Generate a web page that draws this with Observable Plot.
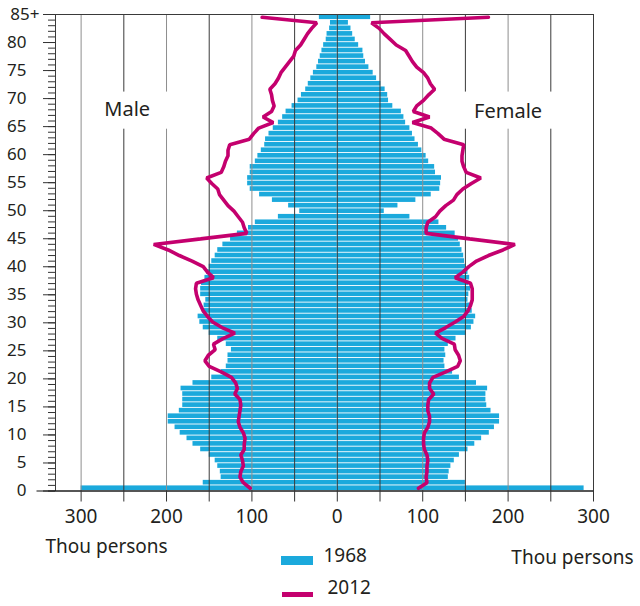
<!DOCTYPE html>
<html><head><meta charset="utf-8">
<script src="https://cdn.jsdelivr.net/npm/d3@7"></script>
<script src="https://cdn.jsdelivr.net/npm/@observablehq/plot@0.6"></script>
<style>
body{margin:0;background:#fff;}
#wrap{position:relative;width:640px;height:606px;font-family:"Noto Sans",sans-serif;}
.sw{position:absolute;}
</style></head><body><div id="wrap"></div>
<script>
// Age groups (85 = "85+")
const ages = d3.range(0, 86);
const yTickLabels = ["0","5","10","15","20","25","30","35","40","45","50","55","60","65","70","75","80","85+"];
const xTickValues = [-300, -200, -100, 0, 100, 200, 300];
const xGridValues = [-300, -250, -200, -150, -100, -50, 0, 50, 100, 150, 200, 250];
const seriesNames = ["1968", "2012"];
const sideLabels = ["Male", "Female"];
const unitLabel = "Thou persons";

// thousand persons, ages 0..85+
const male1968 = [300,157,136,137,140,143,150,160,169,176,184,190,198,198,185,181,181,181,183,169,
  147,136,130,128,128,124,130,140,150,157,161,163,158,156,154,160,160,159,155,153,
  150,147,143,140,134,125,117,104,96,69,44,57,76,91,102,105,105,102,102,96,
  93,89,85,84,80,75,69,64,60,53,46,42,37,34,31,28,24,22,20,18,
  16,13,12,9,8,21];
const female1968 = [289,150,130,131,133,137,143,153,161,169,178,184,190,190,180,175,174,174,176,163,
  143,135,126,125,127,126,130,139,151,157,160,162,158,156,153,154,156,154,155,153,
  150,149,148,146,144,142,138,128,119,85,55,71,92,110,120,121,122,115,114,107,
  104,99,95,91,88,85,80,78,75,65,60,59,56,51,46,42,37,33,31,30,
  25,21,18,16,13,39];
const male2012 = [102,110,114,113,110,111,113,109,109,108,110,114,116,115,114,113,114,120,117,119,
  124,136,150,155,151,143,145,134,120,135,146,152,157,160,163,165,166,165,145,152,
  157,170,185,198,215,160,106,109,111,116,121,128,133,138,140,147,153,136,133,131,
  128,128,126,103,98,92,75,87,77,74,76,77,79,73,69,66,61,56,51,49,
  43,39,35,30,24,88];
const female2012 = [95,105,104,105,105,106,105,102,101,101,102,106,108,108,106,106,107,113,108,108,
  112,127,141,144,142,138,137,123,115,127,138,148,153,156,158,158,158,156,138,147,
  154,163,177,194,208,155,104,104,106,115,120,127,136,140,147,157,168,151,148,146,
  146,147,148,125,118,110,88,108,89,93,101,107,114,109,106,101,93,88,84,80,
  69,62,55,49,40,177];

const rows = ages.map((age, i) => ({
  age, m68: male1968[i], f68: female1968[i], m12: male2012[i], f12: female2012[i]
}));

const blue = "#1ba9dc", magenta = "#c4006e", ink = "#231f20";
// the source spreads its 18 labelled ticks evenly over the 86 age bands
const step = 86 / 85;
const minorPos = ages.map(a => a * step);
const majorRows = yTickLabels.map((label, i) => ({label, pos: i * 5 * step}));
const fontFam = '"Noto Sans", sans-serif';

const plot = Plot.plot({
  width: 640, height: 606,
  marginTop: 14, marginBottom: 115.5, marginLeft: 55, marginRight: 47,
  style: {fontFamily: fontFam, fontSize: "19px", color: ink, background: "white", overflow: "visible"},
  x: {domain: [-330, 300], axis: null},
  y: {domain: [0, 86], axis: null},
  marks: [
    Plot.rect(rows, {x1: 0, x2: d => -d.m68, y1: "age", y2: d => d.age + 1, fill: blue, insetTop: 0.45, insetBottom: 0.45}),
    Plot.rect(rows, {x1: 0, x2: d => d.f68, y1: "age", y2: d => d.age + 1, fill: blue, insetTop: 0.45, insetBottom: 0.45}),
    Plot.ruleX(xGridValues, {stroke: d => d !== 0 && d % 100 === 0 ? "#8e8e8e" : "#3a3a3a", strokeWidth: 1}),
    Plot.rect(sideLabels, {
      x1: d => d === "Male" ? -290 : 120, x2: d => d === "Male" ? -165 : 290,
      y1: 65.3, y2: 72, fill: "white"
    }),
    Plot.text(sideLabels, {
      x: d => d === "Male" ? -246 : 200, y: d => d === "Male" ? 68.85 : 68.5,
      text: d => d, fontSize: 20, fill: ink
    }),
    Plot.line(rows, {x: d => -d.m12, y: d => d.age + 0.5, stroke: magenta, strokeWidth: 3.6, strokeLinejoin: "miter"}),
    Plot.line(rows, {x: d => d.f12, y: d => d.age + 0.5, stroke: magenta, strokeWidth: 3.6, strokeLinejoin: "miter"}),
    Plot.frame({stroke: "#3a3a3a"}),
    Plot.ruleY([0], {stroke: "#111", strokeWidth: 1.2}),
    // y ticks
    Plot.axisY({ticks: minorPos, tickSize: 7, tickFormat: () => "", stroke: "#333"}),
    Plot.axisY({ticks: majorRows.map(d => d.pos), tickSize: 12, tickFormat: () => "", stroke: "#333"}),
    Plot.axisY({ticks: [0], tickSize: 18.5, tickFormat: () => "", stroke: "#111"}),
    Plot.text(majorRows.slice(0, -1), {y: "pos", text: "label", frameAnchor: "left", dx: -29, textAnchor: "end", fontSize: 17, fill: ink}),
    Plot.text(majorRows.slice(-1), {y: "pos", text: "label", frameAnchor: "left", dx: -16, textAnchor: "end", fontSize: 17, fill: ink}),
    // x ticks & labels
    Plot.axisX({ticks: xGridValues.concat([300]), tickSize: 11, tickFormat: () => "", stroke: "#333"}),
    Plot.text(xTickValues, {x: d => d, text: d => String(Math.abs(d)), frameAnchor: "bottom", dy: 31.5, fontSize: 19, fill: ink}),
    // unit labels
    Plot.text([unitLabel], {frameAnchor: "bottom-left", dx: -10, dy: 61.5, textAnchor: "start", fontSize: 19, fill: ink}),
    Plot.text([unitLabel], {frameAnchor: "bottom-right", dx: 40, dy: 72.5, textAnchor: "end", fontSize: 19, fill: ink}),
    // legend labels
    Plot.text([seriesNames[0]], {frameAnchor: "bottom-left", dx: 268, dy: 70.5, textAnchor: "start", fontSize: 19, fill: ink}),
    Plot.text([seriesNames[1]], {frameAnchor: "bottom-left", dx: 272, dy: 102.8, textAnchor: "start", fontSize: 19, fill: ink})
  ]
});

const wrap = document.getElementById("wrap");
wrap.appendChild(plot);
// legend swatches
const s1 = document.createElement("div");
s1.className = "sw";
Object.assign(s1.style, {left: "281px", top: "555.5px", width: "32px", height: "9.5px", background: blue});
const s2 = document.createElement("div");
s2.className = "sw";
Object.assign(s2.style, {left: "282px", top: "591.5px", width: "31px", height: "5px", background: magenta});
wrap.appendChild(s1);
wrap.appendChild(s2);
</script></body></html>
